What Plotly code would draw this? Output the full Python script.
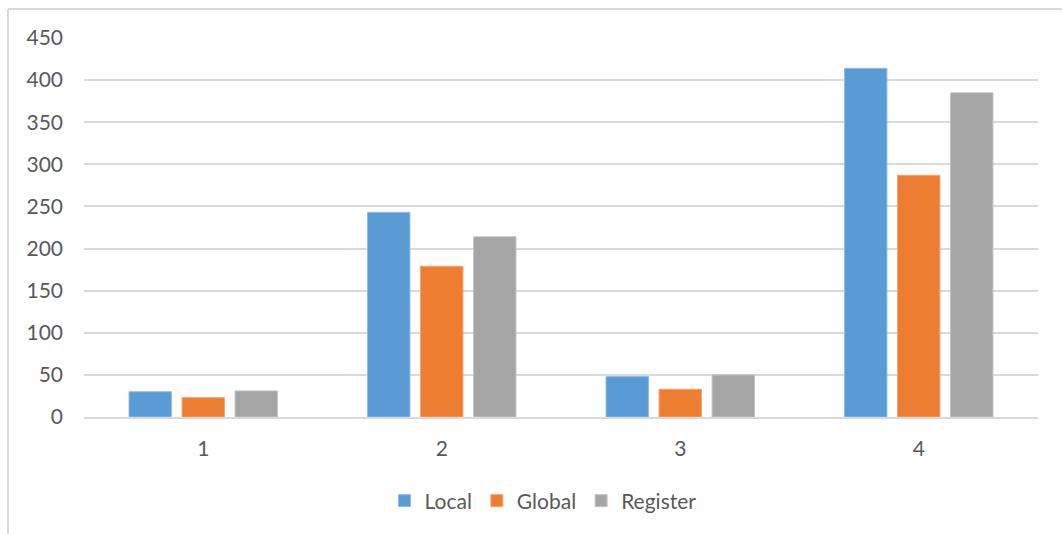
import plotly.graph_objects as go

categories = ["1", "2", "3", "4"]
local_vals = [30, 243, 48, 414]
global_vals = [23, 179, 33, 287]
register_vals = [31, 214, 50, 385]
y_ticks = [0, 50, 100, 150, 200, 250, 300, 350, 400, 450]

colors = {"Local": "#5B9BD5", "Global": "#ED7D31", "Register": "#A5A5A5"}
edges = {"Local": "#8FBCE6", "Global": "#F4A572", "Register": "#C4C4C4"}

fig = go.Figure()
for name, vals in [("Local", local_vals), ("Global", global_vals), ("Register", register_vals)]:
    fig.add_trace(go.Bar(
        x=categories, y=vals, name=name,
        marker=dict(color=colors[name], line=dict(color=edges[name], width=1)),
    ))

font_family = "Lato, 'Open Sans', sans-serif"
W, H = 1062, 534
ml, mr, mt, mb = 84, 24, 38, 117
pw = W - ml - mr
ph = H - mt - mb

def px_x(x):
    return (x - ml) / pw

def px_y(y):
    return (H - mb - y) / ph

fig.update_layout(
    width=W, height=H,
    margin=dict(l=ml, r=mr, t=mt, b=mb, pad=0),
    paper_bgcolor="white", plot_bgcolor="white",
    barmode="group", bargap=0.333, bargroupgap=0.2,
    font=dict(family=font_family, size=21, color="#595959"),
    showlegend=True,
    legend=dict(orientation="h", x=px_x(543), xanchor="center",
                y=px_y(501), yanchor="middle",
                font=dict(size=21, color="#595959"),
                itemwidth=30, traceorder="normal"),
    xaxis=dict(type="category", showgrid=False, showline=True,
               linecolor="#D9D9D9", linewidth=1.5, ticks="",
               ticklabelstandoff=12, tickfont=dict(size=21, color="#595959")),
    yaxis=dict(range=[0, 450], tickvals=y_ticks, showgrid=True,
               gridcolor="#D9D9D9", gridwidth=1.5, zeroline=False,
               showline=False, ticks="", ticklabelstandoff=20,
               tickfont=dict(size=21, color="#595959")),
    shapes=[
        dict(type="line", xref="paper", yref="paper",
             x0=px_x(8), x1=px_x(1070), y0=px_y(9), y1=px_y(9),
             line=dict(color="#D9D9D9", width=2)),
        dict(type="line", xref="paper", yref="paper",
             x0=px_x(8), x1=px_x(8), y0=px_y(9), y1=px_y(540),
             line=dict(color="#D9D9D9", width=2)),
    ],
)

fig.write_html("out.html")
